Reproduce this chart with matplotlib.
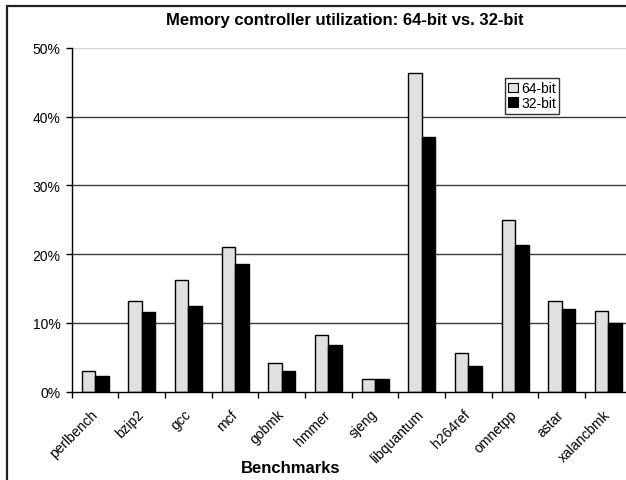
import matplotlib
matplotlib.use("Agg")
import matplotlib.pyplot as plt
import matplotlib.transforms as mtransforms
import numpy as np
from matplotlib.patches import Rectangle, Patch

plt.rcParams['font.family'] = ['Liberation Sans', 'DejaVu Sans']

benchmarks = ["perlbench", "bzip2", "gcc", "mcf", "gobmk", "hmmer", "sjeng",
              "libquantum", "h264ref", "omnetpp", "astar", "xalancbmk"]
util_64 = [3.0, 13.15, 16.25, 21.0, 4.2, 8.2, 1.8, 46.3, 5.6, 25.0, 13.15, 11.75]
util_32 = [2.3, 11.6, 12.4, 18.6, 2.95, 6.75, 1.8, 37.1, 3.7, 21.4, 12.0, 9.95]
y_ticks = [0, 10, 20, 30, 40, 50]
series_names = ["64-bit", "32-bit"]

W, H = 626, 481
fig = plt.figure(figsize=(W / 100, H / 100), dpi=100)

# outer chart frame (runs off the right and bottom edges)
fig.patches.append(Rectangle((7 / W, -0.1), 1.2, (H - 7) / H + 0.1,
                             transform=fig.transFigure, fill=False,
                             edgecolor="#222222", linewidth=1.6))

ax = fig.add_axes([71.7 / W, 88.3 / H, 560 / W, 343.7 / H])

x = np.arange(len(benchmarks))
bw = 0.29
ax.bar(x - bw / 2, util_64, bw, color="#e0e0e0", edgecolor="black",
       linewidth=1.0, zorder=3)
ax.bar(x + bw / 2, util_32, bw, color="black", edgecolor="black",
       linewidth=1.0, zorder=3)

# gridlines
for t in y_ticks[1:]:
    ax.axhline(t, color="#d4d4d4" if t == 50 else "#3a3a3a",
               linewidth=1.0, zorder=1)

ax.set_xlim(-0.5, len(benchmarks) - 0.5)
ax.set_ylim(0, 50)
ax.set_yticks(y_ticks)
ax.set_yticklabels([f"{t}%" for t in y_ticks], fontsize=10)
ax.tick_params(axis="y", direction="out", length=4, width=1, pad=4)

ax.set_xticks(np.arange(len(benchmarks) + 1) - 0.5, minor=True)
ax.set_xticks(x)
ax.set_xticklabels(benchmarks, rotation=45, ha="right", va="top",
                   rotation_mode="anchor", fontsize=10)
ax.tick_params(axis="x", which="major", length=0, pad=11)
ax.tick_params(axis="x", which="minor", direction="out", length=4, width=1)
shift = mtransforms.ScaledTranslation(-5 / 100, 0, fig.dpi_scale_trans)
for lbl in ax.get_xticklabels():
    lbl.set_transform(lbl.get_transform() + shift)

for s in ["top", "right"]:
    ax.spines[s].set_visible(False)
for s in ["left", "bottom"]:
    ax.spines[s].set_linewidth(1.0)
    ax.spines[s].set_zorder(4)

ax.set_xlabel("Benchmarks", fontsize=12, fontweight="bold")
ax.xaxis.set_label_coords((291 - 71.7) / 560, -0.2)
fig.text(345 / W, 1 - 21 / H, "Memory controller utilization: 64-bit vs. 32-bit",
         ha="center", va="center", fontsize=12, fontweight="bold")

handles = [Patch(facecolor="#e0e0e0", edgecolor="black", linewidth=0.8),
           Patch(facecolor="black", edgecolor="black", linewidth=0.8)]
leg = fig.legend(handles, series_names, loc="upper left",
                 bbox_to_anchor=(505 / W, 1 - 79 / H), fontsize=10,
                 frameon=True, fancybox=False, shadow=False,
                 handlelength=0.7, handleheight=0.7, handletextpad=0.2,
                 borderpad=0.25, labelspacing=0.05, borderaxespad=0)
leg.get_frame().set_edgecolor("black")
leg.get_frame().set_linewidth(1.0)

fig.savefig("out.png", dpi=100)
